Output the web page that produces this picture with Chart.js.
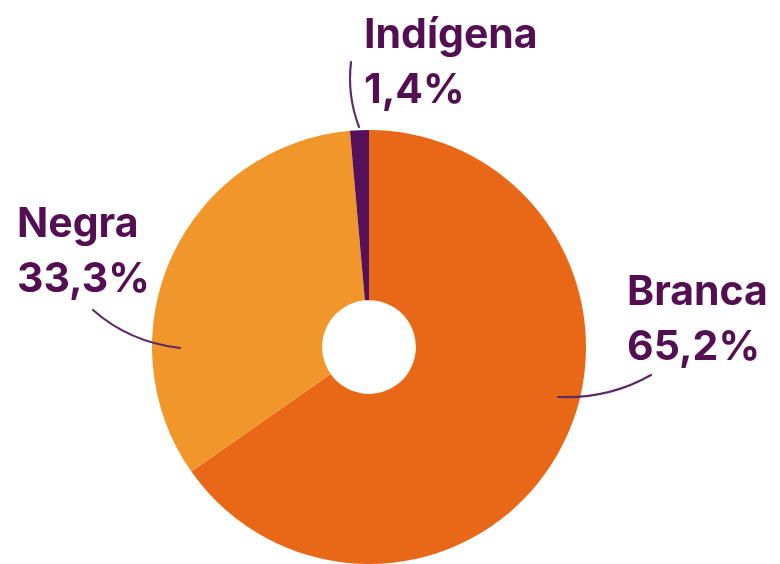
<!DOCTYPE html>
<html>
<head>
<meta charset="utf-8">
<script src="https://cdn.jsdelivr.net/npm/chart.js@4"></script>
<style>
  html, body { margin: 0; padding: 0; background: #fff; }
  #wrap { width: 780px; height: 564px; }
</style>
</head>
<body>
<div id="wrap"><canvas id="grafico" width="780" height="564"></canvas></div>
<script>
// =============================
// DATOS
// =============================
const categorias = ["Branca", "Negra", "Indígena"];
const porcentajes = [65.2, 33.3, 1.4];
const etiquetas = ["65,2%", "33,3%", "1,4%"];
const colores = ["#E96818", "#F0962A", "#55125A"];

// posicion de las etiquetas relativa al centro (texto, linea guia)
const layoutEtiquetas = [
  { tx: 258, ty: -42, l: [[189, 50], [240, 52], [282, 28]] },
  { tx: -352, ty: -110, l: [[-189, 1], [-240, -5], [-276, -37]] },
  { tx: -5, ty: -299, l: [[-10, -220], [-22, -252], [-18, -285]] }
];

const COLOR_TEXTO = "#530F52";

const pluginEtiquetas = {
  id: "etiquetas",
  afterDraw(chart) {
    const ctx = chart.ctx;
    const arcs = chart.getDatasetMeta(0).data;
    arcs.forEach((arc, i) => {
      const cx = arc.x, cy = arc.y;
      const e = layoutEtiquetas[i];
      // linea guia
      ctx.save();
      ctx.strokeStyle = "#5E2B66";
      ctx.lineWidth = 2.2;
      ctx.lineCap = "round";
      ctx.beginPath();
      ctx.moveTo(cx + e.l[0][0], cy + e.l[0][1]);
      ctx.quadraticCurveTo(cx + e.l[1][0], cy + e.l[1][1], cx + e.l[2][0], cy + e.l[2][1]);
      ctx.stroke();
      // texto
      ctx.fillStyle = COLOR_TEXTO;
      ctx.font = "700 41px Inter";
      ctx.textAlign = "left";
      ctx.textBaseline = "alphabetic";
      ctx.fillText(categorias[i], cx + e.tx, cy + e.ty);
      ctx.fillText(etiquetas[i], cx + e.tx, cy + e.ty + 55);
      ctx.restore();
    });
  }
};

new Chart(document.getElementById("grafico"), {
  type: "doughnut",
  data: {
    labels: categorias,
    datasets: [{
      data: porcentajes,
      backgroundColor: colores,
      borderWidth: 0
    }]
  },
  options: {
    responsive: false,
    animation: false,
    cutout: "21.6%",
    layout: { padding: { left: 0, right: 42, top: 130, bottom: 0 } },
    plugins: {
      legend: { display: false },
      tooltip: { enabled: false }
    }
  },
  plugins: [pluginEtiquetas]
});
</script>
</body>
</html>
